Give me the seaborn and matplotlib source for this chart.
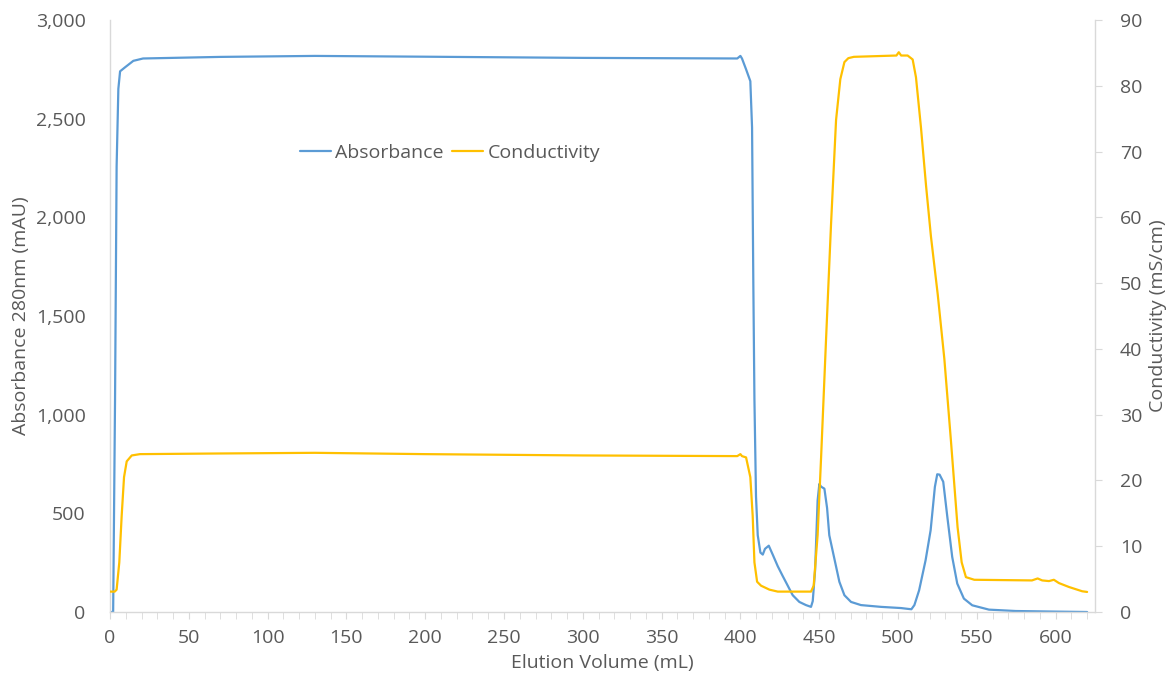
import pandas as pd
import seaborn as sns
import matplotlib.pyplot as plt
from matplotlib.ticker import FuncFormatter, MultipleLocator

# absorbance trace (mAU)
vol_abs = [0, 2, 3.2, 4.2, 5.3, 6.4, 9.5, 14.8, 21, 70,
           130, 200, 300, 398, 400, 401, 403.6, 406.3, 407.4, 408.2,
           408.9, 409.9, 411, 412.7, 414.2, 415.6, 418, 420.5, 423.7, 426.8,
           430, 433.2, 437.4, 441.6, 444.8, 445.9, 447.4, 449, 450.1, 451.2,
           453.3, 455, 456.4, 459.6, 462.8, 466, 470.2, 476.5, 489.2, 501.9,
           506.1, 508.5, 510.4, 513.4, 517.5, 520.7, 523.4, 524.9, 526.4, 528.7,
           531.3, 534.4, 537.6, 541.8, 547.1, 557.7, 574.6, 600, 620]
abs_vals = [0, 0, 1078, 2258, 2651, 2740, 2760, 2793, 2805, 2813,
            2818, 2814, 2808, 2805, 2818, 2805, 2750, 2690, 2455, 1668,
            1078, 586, 389, 301, 291, 320, 336, 291, 232, 183,
            134, 85, 51, 35, 26, 55, 212, 566, 649, 635,
            625, 527, 389, 271, 153, 85, 51, 35, 26, 20,
            16, 14, 35, 110, 262, 414, 634, 698, 696, 660,
            482, 279, 144, 68, 34, 12, 5, 2, 0]

# conductivity trace (mS/cm)
vol_cond = [0, 3, 4.2, 5.9, 7.4, 8.9, 10.6, 13.8, 19, 70,
            130, 200, 300, 398, 400, 401, 403.6, 406.3, 407.8, 408.9,
            410.6, 413.1, 418.4, 423.7, 444.8, 446.5, 449, 451.2, 454.3, 457.5,
            460.7, 463.4, 466, 468.5, 472, 499, 500.5, 502, 506.1, 509.3, 511.4,
            514.6, 517.8, 520.9, 525.2, 529.4, 533.6, 537.8, 540.4, 543.1, 548.4,
            585, 588.6, 591.5, 595.8, 598.9, 602.1, 608.5, 616.9, 620]
cond_vals = [3.1, 3.1, 3.4, 7.55, 14.6, 20.5, 22.9, 23.8, 24.0, 24.1,
             24.2, 24.0, 23.8, 23.7, 24.0, 23.7, 23.5, 20.5, 14.6, 7.55,
             4.6, 4.0, 3.4, 3.1, 3.1, 4.0, 11.7, 23.5, 41.2, 58.9,
             74.8, 81.0, 83.6, 84.2, 84.4, 84.6, 85.1, 84.6, 84.6, 84.0, 81.3,
             73.6, 64.8, 57.1, 48.3, 38.5, 26, 12.9, 7.55, 5.3, 4.9,
             4.8, 5.1, 4.8, 4.7, 4.9, 4.4, 3.8, 3.15, 3.05]

df_abs = pd.DataFrame({"vol": vol_abs, "val": abs_vals})
df_cond = pd.DataFrame({"vol": vol_cond, "val": cond_vals})

sns.set_style("white")
plt.rcParams["font.family"] = ["Open Sans", "DejaVu Sans"]

blue = "#5B9BD5"
yellow = "#FFC000"
grey = "#595959"
axis_col = "#D9D9D9"
fs = 14

fig = plt.figure(figsize=(11.71, 6.79), dpi=100)
ax = fig.add_axes([110 / 1171, 1 - 612 / 679, (1095 - 110) / 1171, (612 - 20) / 679])
ax2 = ax.twinx()

sns.lineplot(data=df_abs, x="vol", y="val", ax=ax, color=blue, lw=1.6,
             estimator=None, label="Absorbance", legend=False)
sns.lineplot(data=df_cond, x="vol", y="val", ax=ax2, color=yellow, lw=1.6,
             estimator=None, label="Conductivity", legend=False)

ax.set_xlim(0, 625)
ax.set_ylim(0, 3000)
ax2.set_ylim(0, 90)

ax.xaxis.set_major_locator(MultipleLocator(50))
ax.xaxis.set_minor_locator(MultipleLocator(10))
ax.yaxis.set_major_locator(MultipleLocator(500))
ax.yaxis.set_major_formatter(FuncFormatter(lambda v, p: f"{int(v):,}"))
ax2.yaxis.set_major_locator(MultipleLocator(10))

for a in (ax, ax2):
    for s in a.spines.values():
        s.set_visible(False)
ax.spines["bottom"].set_visible(True)
ax.spines["left"].set_visible(True)
ax2.spines["right"].set_visible(True)
for s in (ax.spines["bottom"], ax.spines["left"], ax2.spines["right"]):
    s.set_color(axis_col)
    s.set_linewidth(1)

ax.tick_params(axis="x", which="both", direction="out", color=axis_col,
               labelcolor=grey, labelsize=fs, bottom=True)
ax.tick_params(axis="x", which="major", length=5, pad=7)
ax.tick_params(axis="x", which="minor", length=5)
ax.tick_params(axis="y", left=False, labelcolor=grey, labelsize=fs, pad=14)
ax2.tick_params(axis="y", right=True, direction="out", length=5, color=axis_col,
                labelcolor=grey, labelsize=fs, pad=13)

ax.set_xlabel("Elution Volume (mL)", color=grey, fontsize=fs, labelpad=5)
ax.set_ylabel("Absorbance 280nm (mAU)", color=grey, fontsize=fs, labelpad=4)
ax2.set_ylabel("Conductivity (mS/cm)", color=grey, fontsize=fs, labelpad=5)

h1, l1 = ax.get_legend_handles_labels()
h2, l2 = ax2.get_legend_handles_labels()
fig.legend(h1 + h2, l1 + l2, loc="center", bbox_to_anchor=(450 / 1171, 1 - 153 / 679),
           ncol=2, frameon=False, fontsize=fs, labelcolor=grey,
           handlelength=1.6, handletextpad=0.2, columnspacing=0.45)

fig.savefig("out.png", dpi=100)
